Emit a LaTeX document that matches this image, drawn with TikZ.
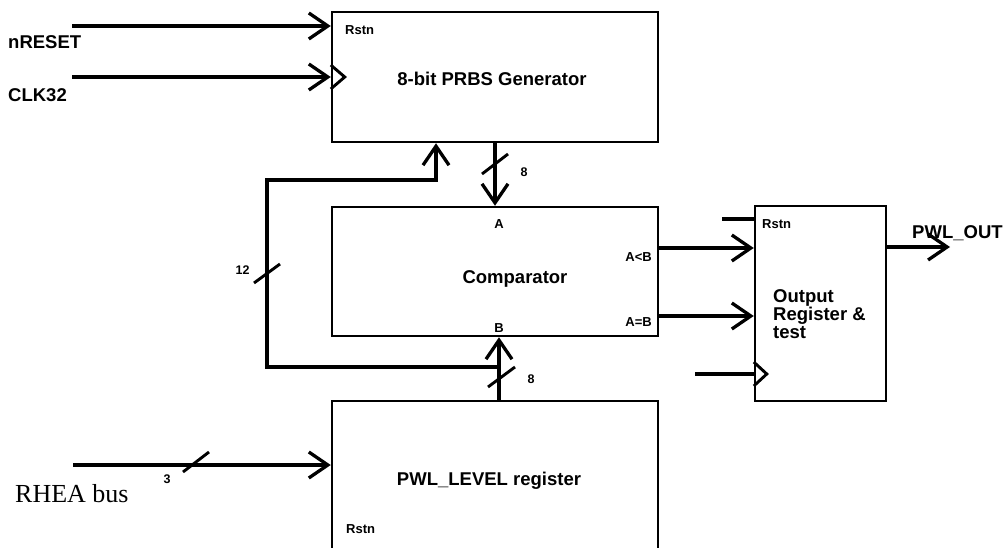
\documentclass[tikz,border=0pt]{standalone}
\usepackage{fontspec}
\setmainfont{Liberation Sans}
\newfontfamily\serifrm{Liberation Serif}
\usetikzlibrary{arrows.meta}
\tikzset{
  blk/.style={draw, line width=2.5pt, rectangle, inner sep=0pt},
  wire/.style={line width=3.3pt},
  arr/.style={wire, -{Straight Barb[length=19pt,width=26pt,line width=3.3pt]}},
  bus/.style={line width=2.9pt},
  big/.style={inner sep=0pt, font=\bfseries\fontsize{18.5}{18}\selectfont},
  small/.style={inner sep=0pt, font=\bfseries\fontsize{13}{13}\selectfont},
  tiny/.style={inner sep=0pt, font=\bfseries\fontsize{12.5}{12.5}\selectfont},
  clk/.style={line width=2.9pt},
}
\begin{document}
\begin{tikzpicture}[x=1pt,y=-1pt]
\useasboundingbox (0,0) rectangle (1003,548);
% boxes
\node[blk, minimum width=326pt, minimum height=130pt] (prbs) at (495,77) {};
\node[blk, minimum width=326pt, minimum height=129pt] (cmp) at (495,271.5) {};
\node[blk, minimum width=326pt, minimum height=159pt] (pwl) at (495,480.5) {};
\node[blk, minimum width=131pt, minimum height=195pt] (outr) at (820.5,303.5) {};

% box texts
\node[big, anchor=base] (tprbs) at (492,86) {8-bit PRBS Generator};
\node[small, anchor=base west] (rprbs) at (345,35) {Rstn};
\node[big, anchor=base] (tcmp) at (515,283) {Comparator};
\node[small, anchor=base] (ta) at (499,228) {A};
\node[small, anchor=base] (tb) at (499,332) {B};
\node[small, anchor=base east] (talb) at (652,261) {A<B};
\node[small, anchor=base east] (taeb) at (652,326) {A=B};
\node[big, anchor=base] (tpwl) at (489,485) {PWL\_LEVEL register};
\node[small, anchor=base west] (rpwl) at (346,533) {Rstn};
\node[small, anchor=base west] (rout) at (762,228) {Rstn};
\node[big, anchor=north west, align=left] (tout) at (773,289.5) {Output\\Register \&\\test};

% outside labels
\node[big, anchor=base west] (lnreset) at (8,49) {nRESET};
\node[big, anchor=base west] (lclk) at (8,102) {CLK32};
\node[big, anchor=base west] (lout) at (912,238) {PWL\_OUT};
\node[inner sep=0pt, anchor=base west, font=\serifrm\fontsize{26}{26}\selectfont] (lrhea) at (15,502) {RHEA bus};
\node[tiny, anchor=base] (n8a) at (524,177) {8};
\node[tiny, anchor=base] (n8b) at (531,383) {8};
\node[tiny, anchor=base] (n12) at (242.5,274) {12};
\node[tiny, anchor=base] (n3) at (167,483) {3};

% free ends
\coordinate (cnr) at (72,26);
\coordinate (cck) at (72,77);
\coordinate (crh) at (73,465);
\coordinate (crs) at (722,219);
\coordinate (cock) at (695,374);
\coordinate (cpo) at (950,247);
\coordinate (cb) at (499,367);
\coordinate (cfb) at (436,180);

% inputs to PRBS
\draw[arr] (cnr) -- (cnr -| prbs.west);
\draw[arr] (cck) -- (cck -| prbs.west);
\draw[clk] ([yshift=-12pt]cck -| prbs.west) -- ([xshift=14pt]cck -| prbs.west) -- ([yshift=12pt]cck -| prbs.west);

% PRBS -> comparator A
\draw[arr] (prbs.south) -- (cmp.north);
\draw[bus] (482,174) -- (508,154);

% PWL -> comparator B
\draw[arr] (pwl.north -| tb) -- (cmp.south -| tb);
\draw[bus] (488,387) -- (515,367);

% feedback to PRBS
\draw[arr, line join=miter] (cb) -- (267,367) -- (267,180) -- (cfb) -- (cfb |- prbs.south);
\draw[bus] (254,283) -- (280,264);

% RHEA bus
\draw[arr] (crh) -- (crh -| pwl.west);
\draw[bus] (183,472) -- (209,452);

% comparator -> output register
\draw[arr] (cmp.east |- 0,248) -- (outr.west |- 0,248);
\draw[arr] (cmp.east |- 0,316) -- (outr.west |- 0,316);
\draw[wire] (crs) -- (crs -| outr.west);
\draw[wire] (cock) -- (cock -| outr.west);
\draw[clk] ([yshift=-12pt]cock -| outr.west) -- ([xshift=13pt]cock -| outr.west) -- ([yshift=12pt]cock -| outr.west);

% output
\draw[arr] (outr.east |- cpo) -- (cpo);
\end{tikzpicture}
\end{document}
